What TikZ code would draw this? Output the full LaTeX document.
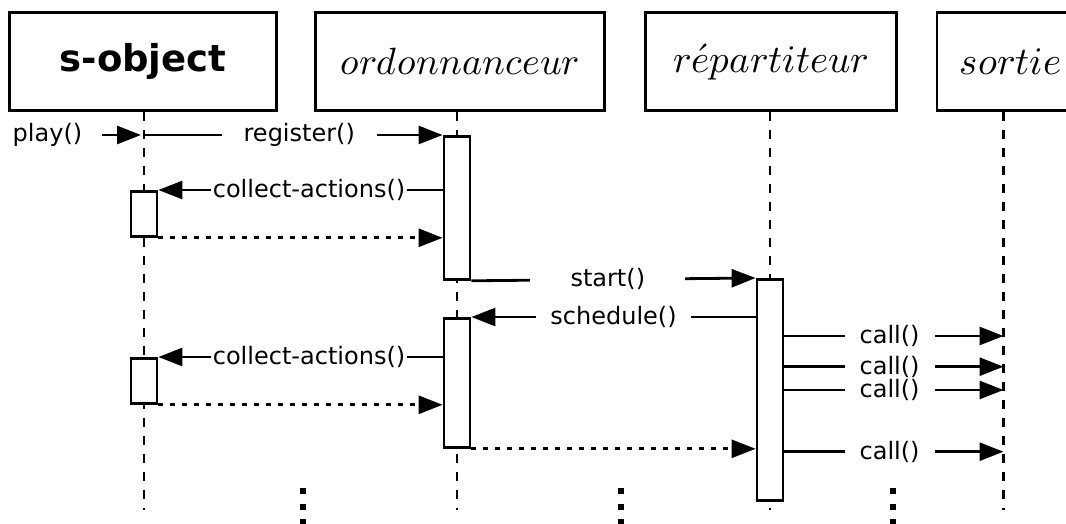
\documentclass[tikz,border=0pt]{standalone}
\usepackage{unicode-math}
\newfontfamily\lblfont{DejaVu Sans}
\usetikzlibrary{arrows.meta}

\begin{document}
\begin{tikzpicture}[x=1pt,y=-1pt,
  head/.style={draw,line width=2.8pt,minimum height=98pt,inner sep=0pt},
  life/.style={line width=2.8pt,dash pattern=on 9pt off 9pt},
  act/.style={draw,fill=white,line width=2.8pt,minimum width=26pt,inner sep=0pt,anchor=north},
  msg/.style={line width=2.8pt,-{Triangle[length=24pt,width=18pt]}},
  ret/.style={msg,dash pattern=on 5pt off 7pt},
  txt/.style={font=\lblfont\fontsize{24}{27}\selectfont},
  lbl/.style={txt,fill=white,inner xsep=2pt,inner ysep=1pt,minimum width=155pt},
  clbl/.style={lbl,minimum width=90pt}]
\useasboundingbox (0,0) rectangle (1066,524);
\clip (0,0) rectangle (1066,524);

% heads
\node[head,minimum width=267pt] (sobj) at (143,61.5) {\lblfont\fontsize{37}{42}\selectfont\bfseries s-object};
\node[head,minimum width=289pt] (ordo) at (460,61.5) {\fontsize{38}{44}\selectfont$ordonnanceur$};
\node[head,minimum width=251pt] (rep) at (771,61.5) {\fontsize{39}{45}\selectfont$r\acute{e}partiteur$};
\node[head,minimum width=147pt] (sort) at (1010.5,61.5) {\fontsize{39}{45}\selectfont$sortie$};

% lifelines
\coordinate (sobj-end) at (144,510);
\coordinate (ordo-end) at (457,510);
\coordinate (rep-end) at (770,510);
\coordinate (sort-end) at (1003.5,510);
\draw[life] (sobj.south -| sobj-end) -- (sobj-end);
\draw[life] (ordo.south -| ordo-end) -- (ordo-end);
\draw[life] (rep.south -| rep-end) -- (rep-end);
\draw[life] (sort.south -| sort-end) -- (sort-end);

% activations
\node[act,minimum height=143pt] (o1) at (457,135) {};
\node[act,minimum height=45pt] (s1) at (144,190) {};
\node[act,minimum height=221pt] (r1) at (770,278) {};
\node[act,minimum height=129pt] (o2) at (457,317) {};
\node[act,minimum height=45pt] (s2) at (144,357) {};

% call targets
\coordinate (c1) at (1003.5,336);
\coordinate (c2) at (1003.5,366.7);
\coordinate (c3) at (1003.5,390);
\coordinate (c4) at (1003.5,451.7);

% ========== messages ==========
\node[txt,inner xsep=20pt] (play) at (47.5,135) {play()};
\draw[msg,shorten >=3pt] (play.east) -- (sobj-end |- play);
\draw[msg] (sobj-end |- o1.north) -- node[lbl,pos=0.52] {register()} (o1.north west);

\draw[msg] (o1.west |- s1.north) -- node[lbl,pos=0.47] {collect-actions()} (s1.north east);
\draw[ret] (s1.south east) -- (o1.west |- s1.south);

\draw[msg] (o1.south east) -- node[lbl,pos=0.48] {start()} (r1.north west);
\draw[msg] (r1.west |- o2.north) -- node[lbl] {schedule()} (o2.north east);

\draw[msg] (o2.west |- s2.north) -- node[lbl,pos=0.47] {collect-actions()} (s2.north east);
\draw[ret] (s2.south east) -- (o2.west |- s2.south);
\draw[ret] (o2.south east) -- (r1.west |- o2.south);

\draw[msg] (r1.east |- c1) -- node[clbl,pos=0.48] {call()} (c1);
\draw[msg] (r1.east |- c2) -- node[clbl,pos=0.48] {call()} (c2);
\draw[msg] (r1.east |- c3) -- node[clbl,pos=0.48] {call()} (c3);
\draw[msg] (r1.east |- c4) -- node[clbl,pos=0.48] {call()} (c4);

% dots
\foreach \x in {303,621,893}
  \foreach \y in {491,507,522}
    \fill (\x-2.75,\y-2.75) rectangle +(5.5,5.5);
\end{tikzpicture}
\end{document}
